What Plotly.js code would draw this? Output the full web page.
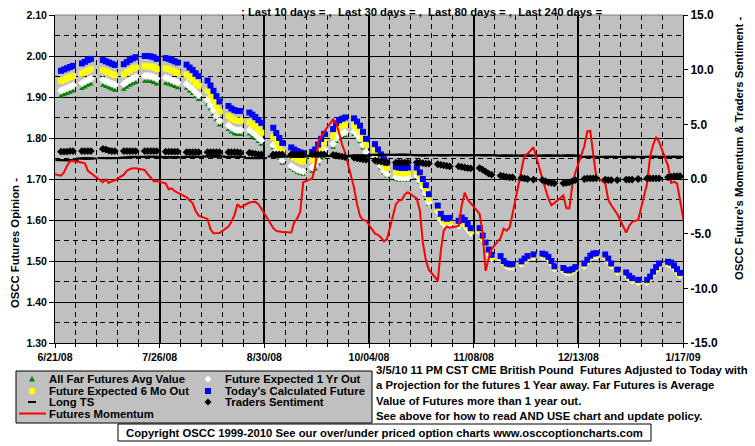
<!DOCTYPE html>
<html><head><meta charset="utf-8">
<script src="https://cdn.plot.ly/plotly-3.0.1.min.js"></script>
<style>html,body{margin:0;padding:0;background:#fff;}#chart{width:755px;height:446px;}</style>
</head><body><div id="chart"></div>
<script>
// trading dates (first and last lie just outside the axis range)
const dates = [
'2008-06-20',
'2008-06-23','2008-06-24','2008-06-25','2008-06-26','2008-06-27',
'2008-06-30','2008-07-01','2008-07-02','2008-07-03','2008-07-04',
'2008-07-07','2008-07-08','2008-07-09','2008-07-10','2008-07-11',
'2008-07-14','2008-07-15','2008-07-16','2008-07-17','2008-07-18',
'2008-07-21','2008-07-22','2008-07-23','2008-07-24','2008-07-25',
'2008-07-28','2008-07-29','2008-07-30','2008-07-31','2008-08-01',
'2008-08-04','2008-08-05','2008-08-06','2008-08-07','2008-08-08',
'2008-08-11','2008-08-12','2008-08-13','2008-08-14','2008-08-15',
'2008-08-18','2008-08-19','2008-08-20','2008-08-21','2008-08-22',
'2008-08-25','2008-08-26','2008-08-27','2008-08-28','2008-08-29',
'2008-09-01','2008-09-02','2008-09-03','2008-09-04','2008-09-05',
'2008-09-08','2008-09-09','2008-09-10','2008-09-11','2008-09-12',
'2008-09-15','2008-09-16','2008-09-17','2008-09-18','2008-09-19',
'2008-09-22','2008-09-23','2008-09-24','2008-09-25','2008-09-26',
'2008-09-29','2008-09-30','2008-10-01','2008-10-02','2008-10-03',
'2008-10-06','2008-10-07','2008-10-08','2008-10-09','2008-10-10',
'2008-10-13','2008-10-14','2008-10-15','2008-10-16','2008-10-17',
'2008-10-20','2008-10-21','2008-10-22','2008-10-23','2008-10-24',
'2008-10-27','2008-10-28','2008-10-29','2008-10-30','2008-10-31',
'2008-11-03','2008-11-04','2008-11-05','2008-11-06','2008-11-07',
'2008-11-10','2008-11-11','2008-11-12','2008-11-13','2008-11-14',
'2008-11-17','2008-11-18','2008-11-19','2008-11-20','2008-11-21',
'2008-11-24','2008-11-25','2008-11-26','2008-11-27','2008-11-28',
'2008-12-01','2008-12-02','2008-12-03','2008-12-04','2008-12-05',
'2008-12-08','2008-12-09','2008-12-10','2008-12-11','2008-12-12',
'2008-12-15','2008-12-16','2008-12-17','2008-12-18','2008-12-19',
'2008-12-22','2008-12-23','2008-12-24','2008-12-25','2008-12-26',
'2008-12-29','2008-12-30','2008-12-31','2009-01-01','2009-01-02',
'2009-01-05','2009-01-06','2009-01-07','2009-01-08','2009-01-09',
'2009-01-12','2009-01-13','2009-01-14','2009-01-15','2009-01-16',
'2009-01-19'
];

// All Far Futures Avg Value (green triangles, left axis)
const farFuturesAvg = [null,
1.902,1.905,1.908,1.911,1.914, 1.920,1.924,1.928,1.931,null,
1.928,1.925,1.922,1.919,1.916, 1.918,1.923,1.928,1.932,1.935,
1.938,1.938,1.937,1.935,1.931, 1.933,1.931,1.928,1.925,1.922,
1.921,1.914,1.908,1.900,1.893, 1.882,1.870,1.857,1.844,1.831,
1.820,1.814,1.810,1.808,1.808, 1.809,1.804,1.798,1.791,1.784,
null,1.775,1.762,1.750,1.738, 1.725,1.720,1.716,1.713,1.711,
1.718,1.724,1.736,1.750,1.762, 1.777,1.791,1.798,1.802,1.805,
1.808,1.800,1.790,1.775,1.758, 1.751,1.738,1.726,1.714,1.706,
1.699,1.697,1.696,1.696,1.697, 1.703,1.691,1.675,1.660,1.638,
1.617,1.597,1.587,1.585,1.587, 1.584,1.592,1.586,1.576,1.566,
1.570,1.552,1.535,1.518,1.505, 1.508,1.496,1.490,1.488,1.488,
1.495,1.502,1.508,null,1.512, 1.514,1.512,1.506,1.496,1.483,
1.479,1.474,1.473,1.476,1.481, 1.496,1.505,1.515,1.520,1.521,
1.512,1.502,1.490,null,1.475, 1.468,1.460,1.454,null,1.450,
1.450,1.458,1.470,1.481,1.490, 1.494,1.492,1.485,1.476,1.467,
null];

// Future Expected 1 Yr Out (white diamonds, left axis)
const expected1Yr = [null,
1.916,1.919,1.922,1.925,1.928, 1.934,1.938,1.942,1.945,null,
1.942,1.939,1.936,1.933,1.930, 1.932,1.937,1.942,1.946,1.949,
1.952,1.952,1.951,1.949,1.945, 1.947,1.945,1.942,1.939,1.936,
1.932,1.925,1.919,1.911,1.904, 1.893,1.881,1.868,1.855,1.842,
1.831,1.825,1.821,1.819,1.819, 1.819,1.814,1.808,1.801,1.794,
null,1.783,1.770,1.758,1.746, 1.732,1.727,1.723,1.720,1.718,
1.728,1.734,1.746,1.760,1.772, 1.786,1.800,1.807,1.811,1.814,
1.816,1.808,1.798,1.783,1.766, 1.757,1.744,1.732,1.720,1.712,
1.705,1.703,1.702,1.702,1.703, 1.708,1.696,1.680,1.665,1.643,
1.620,1.600,1.590,1.588,1.590, 1.586,1.594,1.588,1.578,1.568,
1.571,1.553,1.536,1.519,1.506, 1.506,1.494,1.488,1.486,1.486,
1.493,1.500,1.506,null,1.510, 1.512,1.510,1.504,1.494,1.481,
1.477,1.472,1.471,1.474,1.479, 1.488,1.497,1.507,1.512,1.513,
1.510,1.500,1.488,null,1.473, 1.466,1.458,1.452,null,1.448,
1.448,1.456,1.468,1.479,1.488, 1.492,1.490,1.483,1.474,1.465,
null];

// Future Expected 6 Mo Out (yellow squares, left axis)
const expected6Mo = [null,
1.939,1.942,1.945,1.948,1.951, 1.957,1.961,1.965,1.968,null,
1.965,1.962,1.959,1.956,1.953, 1.955,1.960,1.965,1.969,1.972,
1.975,1.975,1.974,1.972,1.968, 1.970,1.968,1.965,1.962,1.959,
1.955,1.948,1.942,1.934,1.927, 1.916,1.904,1.891,1.878,1.865,
1.854,1.848,1.844,1.842,1.842, 1.838,1.833,1.827,1.820,1.813,
null,1.803,1.790,1.778,1.766, 1.757,1.752,1.748,1.745,1.743,
1.746,1.752,1.764,1.778,1.790, 1.804,1.818,1.825,1.829,1.832,
1.832,1.824,1.814,1.799,1.782, 1.771,1.758,1.746,1.734,1.726,
1.717,1.715,1.714,1.714,1.715, 1.718,1.706,1.690,1.675,1.653,
1.627,1.607,1.597,1.595,1.597, 1.592,1.600,1.594,1.584,1.574,
1.575,1.557,1.540,1.523,1.510, 1.509,1.497,1.491,1.489,1.489,
1.496,1.503,1.509,null,1.513, 1.515,1.513,1.507,1.497,1.484,
1.480,1.475,1.474,1.477,1.482, 1.491,1.500,1.510,1.515,1.516,
1.513,1.503,1.491,null,1.476, 1.469,1.461,1.455,null,1.451,
1.451,1.459,1.471,1.482,1.491, 1.495,1.493,1.486,1.477,1.468,
null];

// Today's Calculated Future (blue squares, left axis)
const todaysFuture = [null,
1.964,1.967,1.970,1.973,1.976, 1.982,1.986,1.990,1.993,null,
1.990,1.987,1.984,1.981,1.978, 1.980,1.985,1.990,1.994,1.997,
2.000,2.000,1.999,1.997,1.993, 1.995,1.993,1.990,1.987,1.984,
1.979,1.972,1.966,1.958,1.951, 1.940,1.928,1.915,1.902,1.889,
1.878,1.872,1.868,1.866,1.866, 1.862,1.857,1.851,1.844,1.837,
null,1.825,1.812,1.800,1.788, 1.777,1.772,1.768,1.765,1.763,
1.766,1.772,1.784,1.798,1.810, 1.822,1.836,1.843,1.847,1.850,
1.848,1.840,1.830,1.815,1.798, 1.785,1.772,1.760,1.748,1.740,
1.730,1.728,1.727,1.727,1.728, 1.728,1.716,1.700,1.685,1.663,
1.635,1.615,1.605,1.603,1.605, 1.598,1.606,1.600,1.590,1.580,
1.580,1.562,1.545,1.528,1.515, 1.512,1.500,1.494,1.492,1.492,
1.499,1.506,1.512,null,1.516, 1.518,1.516,1.510,1.500,1.487,
1.483,1.478,1.477,1.480,1.485, 1.494,1.503,1.513,1.518,1.519,
1.516,1.506,1.494,null,1.479, 1.472,1.464,1.458,null,1.454,
1.454,1.462,1.474,1.485,1.494, 1.498,1.496,1.489,1.480,1.471,
null];

// Long TS (black dashes, left axis)
const longTS = [null,
1.746,1.746,1.746,1.746,1.746, 1.750,1.750,1.750,1.750,null,
1.751,1.751,1.751,1.751,1.751, 1.752,1.752,1.753,1.754,1.754,
1.754,1.754,1.754,1.754,1.754, 1.753,1.753,1.753,1.753,1.753,
1.754,1.754,1.754,1.754,1.754, 1.755,1.755,1.755,1.755,1.755,
1.754,1.754,1.754,1.754,1.754, 1.751,1.751,1.751,1.751,1.751,
null,1.755,1.755,1.755,1.755, 1.755,1.755,1.755,1.755,1.755,
1.756,1.756,1.756,1.756,1.756, 1.756,1.756,1.756,1.756,1.756,
1.757,1.757,1.757,1.757,1.757, 1.759,1.759,1.759,1.759,1.759,
1.759,1.759,1.759,1.759,1.759, 1.758,1.758,1.758,1.758,1.758,
1.758,1.758,1.758,1.758,1.758, 1.758,1.758,1.758,1.758,1.758,
1.758,1.758,1.758,1.758,1.758, 1.757,1.757,1.757,1.757,1.757,
1.757,1.757,1.757,null,1.757, 1.757,1.757,1.757,1.757,1.757,
1.757,1.757,1.757,1.757,1.757, 1.754,1.754,1.754,1.754,1.754,
1.754,1.754,1.754,null,1.754, 1.754,1.754,1.754,null,1.754,
1.754,1.754,1.754,1.754,1.754, 1.754,1.754,1.754,1.754,1.754,
null];

// Traders Sentiment (black diamonds, right axis)
const tradersSentiment = [null,
2.5,2.5,2.5,2.55,2.55, 2.55,2.55,2.55,2.55,null,
2.75,2.7,2.6,2.55,2.55, 2.55,2.55,2.55,2.55,2.55,
2.55,2.55,2.55,2.55,2.55, 2.5,2.5,2.5,2.5,2.5,
2.45,2.45,2.45,2.45,2.45, 2.45,2.45,2.45,2.45,2.45,
2.45,2.45,2.45,2.45,2.4, 2.4,2.35,2.3,2.25,2.25,
null,2.25,2.25,2.25,2.25, 2.25,2.25,2.25,2.25,2.25,
2.25,2.25,2.25,2.25,2.25, 2.2,2.15,2.1,2.05,2.0,
1.95,1.9,1.85,1.8,1.75, 1.7,1.65,1.6,1.55,1.5,
1.5,1.5,1.5,1.5,1.5, 1.5,1.5,1.45,1.4,1.4,
1.35,1.3,1.25,1.2,1.15, 1.15,1.1,1.05,1.0,0.98,
1.0,0.85,0.67,0.5,0.4, 0.3,0.25,0.2,0.15,0.15,
0.1,0.05,0.0,null,-0.05, -0.1,-0.2,-0.3,-0.35,-0.4,
-0.4,-0.35,-0.3,-0.2,-0.1, 0.0,0.05,0.05,0.05,0.05,
-0.05,-0.1,-0.1,null,-0.1, -0.05,-0.05,-0.05,null,0.0,
0.05,0.05,0.05,0.05,0.05, 0.15,0.2,0.25,0.25,0.25,
null];

// Futures Momentum (red line, right axis)
const futuresMomentum = [0.5,
0.3,0.6,1.2,1.62,1.65, 1.5,1.43,0.75,0.55,null,
-0.3,-0.05,-0.37,-0.2,-0.12, 0.4,0.75,0.9,0.98,0.98,
0.82,0.45,0.1,-0.2,-0.18, -0.4,-0.94,-0.85,-1.1,-1.25,
-1.68,-1.95,-2.2,-2.9,-3.35, -3.65,-4.6,-4.97,-4.97,-4.95,
-4.36,-3.9,-3.3,-2.3,-2.6, -2.15,-2.1,-2.08,-2.3,-2.7,
null,-4.5,-4.75,-4.8,-4.85, -4.9,-3.95,-3.6,-3.0,-0.3,
0.05,1.1,3.4,3.85,4.35, 5.45,5.1,4.2,3.15,2.4,
-0.8,-2.3,-3.4,-3.75,-3.8, -5.0,-5.1,-5.35,-5.7,-5.5,
-2.3,-2.0,-1.9,-1.4,-1.2, -1.8,-2.9,-5.8,-7.4,-8.3,
-9.3,-6.6,-4.7,-4.35,-4.45, -4.3,-2.4,-1.25,-1.9,-2.2,
-3.2,-5.0,-8.4,-7.3,-6.4, -5.4,-4.55,-4.73,-4.45,-3.2,
1.0,2.2,2.3,null,2.9, 0.0,-1.0,-1.8,-2.4,-2.2,
-1.5,-2.68,-2.68,-0.5,0.6, 3.0,4.35,4.4,2.2,0.2,
-0.4,-1.9,-2.4,null,-3.2, -4.9,-4.3,-3.92,null,-3.75,
-0.4,2.05,3.1,3.85,3.4, 1.2,-0.35,-0.25,-0.4,-1.92,
-6.5];

const xTickVals = ['2008-06-21','2008-07-26','2008-08-30','2008-10-04','2008-11-08','2008-12-13','2009-01-17'];
const xTickText = ['6/21/08','7/26/08','8/30/08','10/04/08','11/08/08','12/13/08','1/17/09'];
const yTickVals = [1.3,1.4,1.5,1.6,1.7,1.8,1.9,2.0,2.1];
const yTickText = ['1.30','1.40','1.50','1.60','1.70','1.80','1.90','2.00','2.10'];
const y2TickVals = [-15,-10,-5,0,5,10,15];
const y2TickText = ['-15.0','-10.0','-5.0','0.0','5.0','10.0','15.0'];
const legendNames = ['All Far Futures Avg Value','Future Expected 6 Mo Out','Long TS','Futures Momentum',
                     'Future Expected 1 Yr Out',"Today's Calculated Future",'Traders Sentiment'];

const FONT = 'Liberation Sans, Arial, sans-serif';
const W = 755, H = 446, L = 55, R = 72, T = 15, B = 103;
const PX = x => (x - L) / (W - L - R);
const PY = y => (H - B - y) / (H - T - B);

const traces = [
  {x: dates, y: farFuturesAvg, name: legendNames[0], type: 'scatter', mode: 'markers',
   marker: {symbol: 'triangle-up', size: 5, color: '#008000', line: {width: 0}}},
  {x: dates, y: expected1Yr, name: legendNames[4], type: 'scatter', mode: 'markers',
   marker: {symbol: 'diamond', size: 6, color: '#ffffff', line: {width: 0}}},
  {x: dates, y: expected6Mo, name: legendNames[1], type: 'scatter', mode: 'markers',
   marker: {symbol: 'square', size: 6, color: '#ffff00', line: {width: 0}}},
  {x: dates, y: todaysFuture, name: legendNames[5], type: 'scatter', mode: 'markers',
   marker: {symbol: 'square', size: 6, color: '#0000ff', line: {width: 0}}},
  {x: dates, y: longTS, name: legendNames[2], type: 'scatter', mode: 'markers',
   marker: {symbol: 'line-ew', size: 8, color: '#000', line: {width: 2, color: '#000'}}},
  {x: dates, y: futuresMomentum, name: legendNames[3], type: 'scatter', mode: 'lines', yaxis: 'y2',
   connectgaps: true, line: {color: '#ff0000', width: 2}},
  {x: dates, y: tradersSentiment, name: legendNames[6], type: 'scatter', mode: 'markers', yaxis: 'y2',
   marker: {symbol: 'diamond', size: 6, color: '#000', line: {width: 0}}}
];

const bold = (size) => ({family: FONT, size: size, color: '#000', weight: 'bold'});
const ann = (x, y, text, opts) => Object.assign({xref: 'paper', yref: 'paper', x: PX(x), y: PY(y), text: text,
  showarrow: false, xanchor: 'left', yanchor: 'middle', font: bold(11.3)}, opts || {});

const annotations = [
  ann(239, 12, ': Last 10 days = ,  Last 30 days = ,  Last 80 days = ,  Last 240 days ='),
  ann(15, 243, 'OSCC Futures Opinion -', {textangle: -90, xanchor: 'center', yanchor: 'middle'}),
  ann(739, 149, "OSCC Future's Momentum & Traders Sentiment -", {textangle: -90, xanchor: 'center', yanchor: 'middle'}),
  ann(374, 370, '3/5/10 11 PM CST CME British Pound  Futures Adjusted to Today with'),
  ann(374, 385, 'a Projection for the futures 1 Year away. Far Futures is Average'),
  ann(374, 400.5, 'Value of Futures more than 1 year out.'),
  ann(374, 416, 'See above for how to read AND USE chart and update policy.'),
  ann(384.5, 432.5, 'Copyright OSCC 1999-2010 See our over/under priced option charts www.osccoptioncharts.com', {xanchor: 'center'}),
  ann(47, 379, legendNames[0]),
  ann(47, 391, legendNames[1]),
  ann(47, 402, legendNames[2]),
  ann(47, 413.5, legendNames[3]),
  ann(223, 379, legendNames[4]),
  ann(223, 391, legendNames[5]),
  ann(223, 402, legendNames[6])
];

const rectPx = (x0, y0, x1, y1, fill, line) => ({type: 'rect', xref: 'paper', yref: 'paper', layer: 'above',
  x0: PX(x0), x1: PX(x1), y0: PY(y1), y1: PY(y0), fillcolor: fill, line: line || {width: 0}});
const linePx = (x0, y0, x1, y1, color, width) => ({type: 'line', xref: 'paper', yref: 'paper', layer: 'above',
  x0: PX(x0), x1: PX(x1), y0: PY(y0), y1: PY(y1), line: {color: color, width: width}});
const pathPx = (pts, fill) => ({type: 'path', xref: 'paper', yref: 'paper', layer: 'above', fillcolor: fill,
  line: {width: 0}, path: 'M' + pts.map(p => PX(p[0]) + ',' + PY(p[1])).join(' L') + ' Z'});
const diamond = (cx, cy, r, fill) => pathPx([[cx, cy - r], [cx + r, cy], [cx, cy + r], [cx - r, cy]], fill);

const shapes = [
  linePx(L, T, W - R, T, '#808080', 1),
  rectPx(16, 371, 372, 423, '#c0c0c0', {color: '#000', width: 1}),
  rectPx(118, 424, 651, 441, '#ffffff', {color: '#000', width: 1}),
  pathPx([[29, 381.5], [35, 381.5], [32, 376]], '#008000'),
  rectPx(29, 388, 35, 394, '#ffff00'),
  linePx(28, 402, 36, 402, '#000', 2),
  linePx(19, 413.5, 46, 413.5, '#ff0000', 2),
  diamond(208, 379, 3.5, '#ffffff'),
  rectPx(205, 388, 211, 394, '#0000ff'),
  diamond(208, 402, 3.5, '#000000')
];

const gridDash = '5px,4px';
const layout = {
  width: W, height: H,
  margin: {l: L, r: R, t: T, b: B, pad: 0},
  paper_bgcolor: '#ffffff', plot_bgcolor: '#c0c0c0',
  showlegend: false,
  font: {family: FONT, size: 11, color: '#000'},
  xaxis: {type: 'date', range: ['2008-06-21', '2009-01-17'], fixedrange: true,
    tickmode: 'array', tickvals: xTickVals, ticktext: xTickText,
    showgrid: true, gridcolor: '#000', gridwidth: 2, zeroline: false,
    showline: true, linecolor: '#000', linewidth: 1,
    ticks: 'outside', ticklen: 4, tickcolor: '#000', tickwidth: 1, tickfont: bold(10.5),
    minor: {tickmode: 'linear', tick0: '2008-06-21', dtick: 7 * 86400000, showgrid: true,
            gridcolor: '#000', gridwidth: 1, griddash: gridDash, ticks: 'outside', ticklen: 3, tickcolor: '#000'}},
  yaxis: {range: [1.3, 2.1], fixedrange: true,
    tickmode: 'array', tickvals: yTickVals, ticktext: yTickText,
    showgrid: true, gridcolor: '#000', gridwidth: 1, zeroline: false,
    showline: true, linecolor: '#000', linewidth: 1,
    ticks: 'outside', ticklen: 5, tickcolor: '#000', tickfont: bold(10.5),
    minor: {tickmode: 'linear', tick0: 1.3, dtick: 0.05, showgrid: true,
            gridcolor: '#000', gridwidth: 1, griddash: gridDash}},
  yaxis2: {overlaying: 'y', side: 'right', range: [-15, 15], fixedrange: true,
    tickmode: 'array', tickvals: y2TickVals, ticktext: y2TickText,
    showgrid: false, zeroline: false, showline: true, linecolor: '#000', linewidth: 1,
    ticks: 'outside', ticklen: 4, tickcolor: '#000', tickfont: bold(12)},
  annotations: annotations,
  shapes: shapes
};

Plotly.newPlot('chart', traces, layout, {staticPlot: true, displayModeBar: false});
</script>
</body></html>
